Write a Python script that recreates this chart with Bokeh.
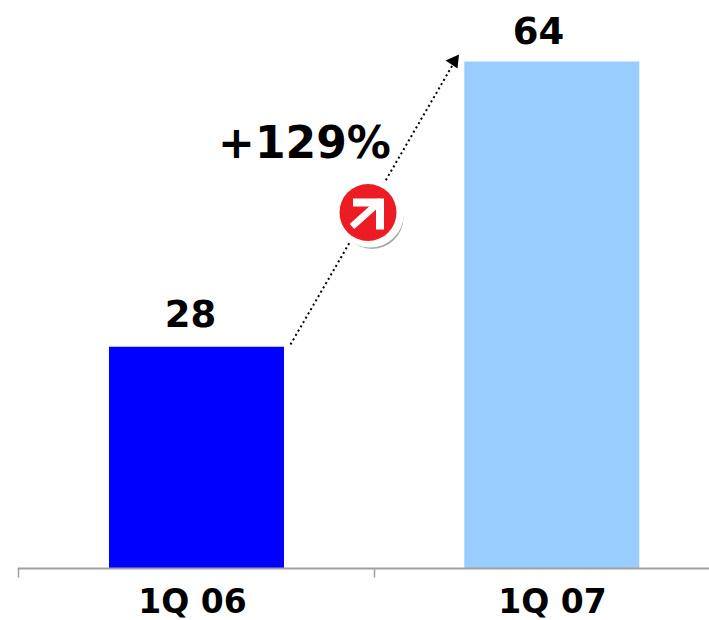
from bokeh.plotting import figure
from bokeh.embed import file_html
from bokeh.resources import INLINE
from bokeh.models import Range1d, ColumnDataSource
from bokeh.core.properties import value

categories = ["1Q 06", "1Q 07"]
values = [28, 64]
bar_colors = ["#0000ff", "#99ccff"]
growth_label = "+129%"
FONT = "DejaVu Sans"

W, H = 709, 620
# one category spans 356 px; the baseline sits 52 px above the bottom edge
X0, XPX = 18, 356.0
Y_BASE = 568
YPX = (Y_BASE - 61) / 64.0


def dx(px):
    """Horizontal page pixel to data."""
    return (px - X0) / XPX


def dy(py):
    """Vertical page pixel to data."""
    return (Y_BASE - py) / YPX


p = figure(width=W, height=H, output_backend="svg", toolbar_location=None,
           min_border=0, min_border_left=0, min_border_right=0,
           min_border_top=0, min_border_bottom=0,
           x_range=Range1d(dx(0), dx(W)), y_range=Range1d(dy(H), dy(0)),
           x_axis_location=None, y_axis_location=None)
p.grid.visible = False
p.outline_line_color = None
p.background_fill_color = "#ffffff"
p.border_fill_color = "#ffffff"

bar_centers = [dx(196), dx(551.3)]
src = ColumnDataSource(dict(x=bar_centers, top=values, color=bar_colors))
p.vbar(x="x", top="top", bottom=0, width=175 / XPX, color="color", source=src, line_color=None)

# baseline with category ticks
axis_color = "#a0a0a0"
p.segment(x0=[dx(17)], y0=[0], x1=[dx(W)], y1=[0], line_color=axis_color, line_width=2)
p.segment(x0=[dx(18), dx(374)], y0=[0, 0], x1=[dx(18), dx(374)], y1=[dy(577), dy(577)],
          line_color=axis_color, line_width=1.5)

# value labels
p.text(x=[dx(190), dx(538)], y=[dy(313), dy(30)], text=[str(v) for v in values],
       text_font=value(FONT), text_font_style="bold", text_font_size="37px",
       text_align="center", text_baseline="middle", text_color="#000000")

# category labels
p.text(x=[dx(192), dx(552)], y=[dy(601), dy(601)], text=categories, text_font=value(FONT),
       text_font_style="bold", text_font_size="33px", text_align="center",
       text_baseline="middle", text_color="#000000")

# growth arrow from the first bar's corner towards the top of the second bar
p.line([dx(290), dx(453)], [dy(344), dy(63)], line_color="#000000", line_width=2, line_dash="2 3")
p.patch(x=[dx(458.5), dx(445), dx(457)], y=[dy(54), dy(60), dy(68)],
        fill_color="#000000", line_color=None)

p.text(x=[dx(304)], y=[dy(142)], text=[growth_label], text_font=value(FONT),
       text_font_style="bold", text_font_size="44px", text_align="center",
       text_baseline="middle", text_color="#000000")

# red badge with a white arrow
bx, by = 367.5, 212
p.scatter(x=[dx(bx + 4)], y=[dy(by + 5)], size=63, fill_color="#a8a8a8", line_color=None)
p.scatter(x=[dx(bx + 2)], y=[dy(by + 1)], size=68, fill_color="#ffffff", line_color=None)
p.scatter(x=[dx(bx)], y=[dy(by)], size=57, fill_color="#ed1c24", line_color=None)
p.segment(x0=[dx(bx - 16)], y0=[dy(by + 14)], x1=[dx(bx + 13)], y1=[dy(by - 12)],
          line_color="#ffffff", line_width=7)
p.patch(x=[dx(bx - 15), dx(bx + 16), dx(bx + 16), dx(bx + 8), dx(bx + 8), dx(bx - 15)],
        y=[dy(by - 14), dy(by - 14), dy(by + 17), dy(by + 17), dy(by - 6), dy(by - 6)],
        fill_color="#ffffff", line_color=None)

open("out.html", "w").write(file_html(p, INLINE))
